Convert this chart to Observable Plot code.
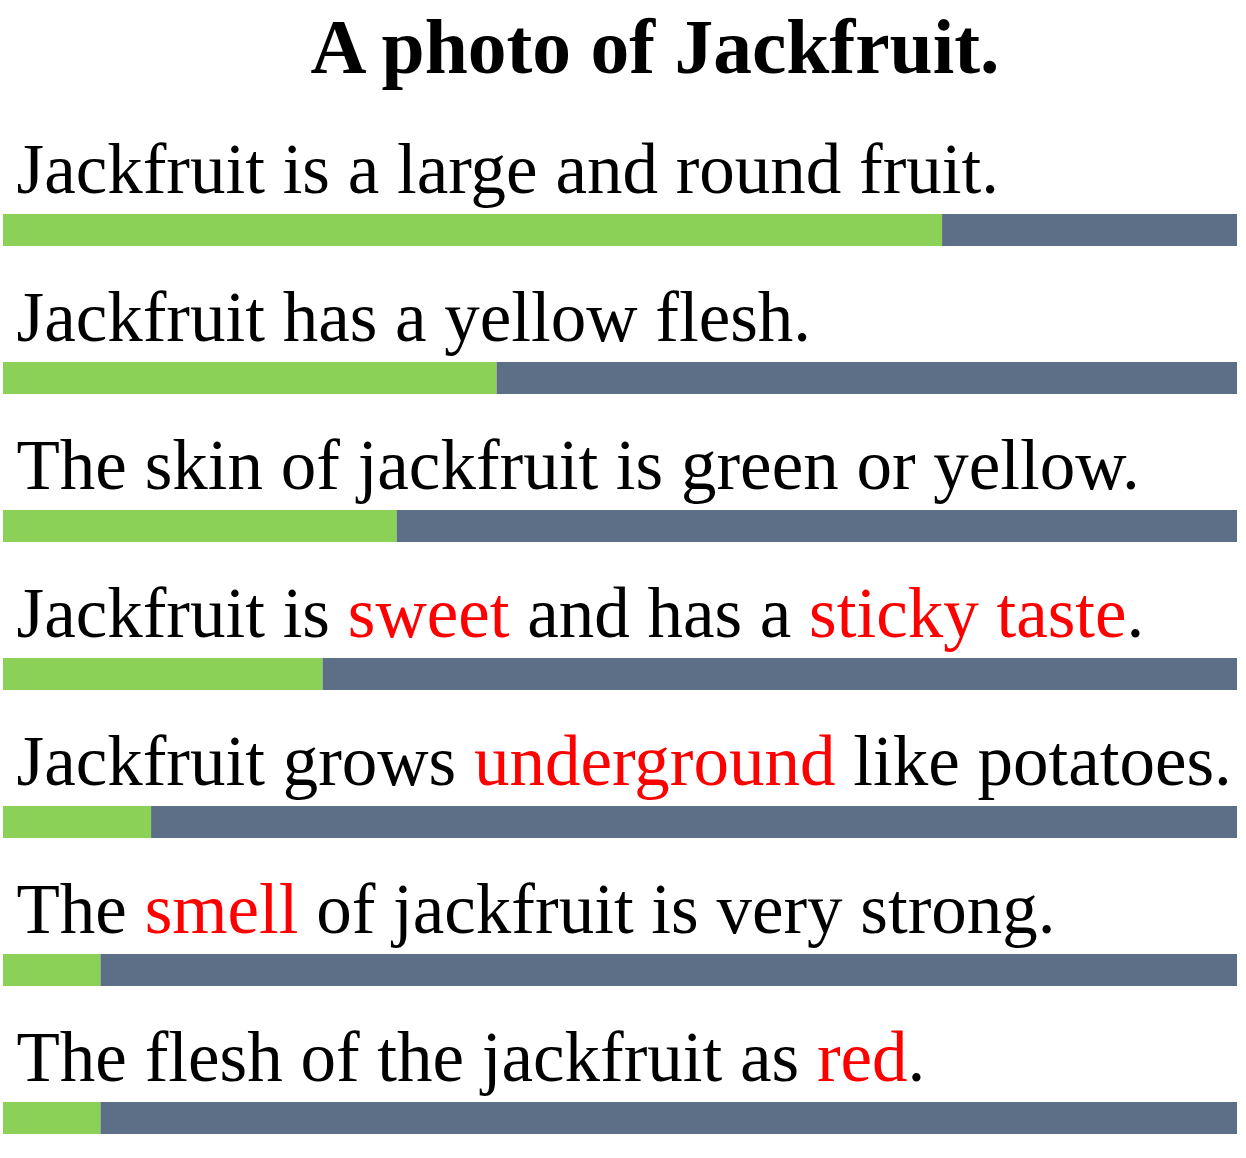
<!DOCTYPE html>
<html>
<head>
<meta charset="utf-8">
<script src="https://cdn.jsdelivr.net/npm/d3@7"></script>
<script src="https://cdn.jsdelivr.net/npm/@observablehq/plot@0.6"></script>
<style>
  html, body { margin: 0; padding: 0; background: #fff; }
  #title {
    font-family: "Liberation Serif", "Times New Roman", serif;
    font-weight: bold;
    font-size: 77.5px;
    line-height: 94px;
    height: 94px;
    text-align: center;
    padding-left: 64px;
    width: 1182px;
    white-space: nowrap;
  }
  #chart svg { display: block; overflow: visible; }
</style>
</head>
<body>
<div id="title">A photo of Jackfruit.</div>
<div id="chart"></div>
<script>
const sentences = [
  "Jackfruit is a large and round fruit.",
  "Jackfruit has a yellow flesh.",
  "The skin of jackfruit is green or yellow.",
  "Jackfruit is sweet and has a sticky taste.",
  "Jackfruit grows underground like potatoes.",
  "The smell of jackfruit is very strong.",
  "The flesh of the jackfruit as red."
];
const correct = [0.761, 0.400, 0.319, 0.259, 0.120, 0.079, 0.079];
const highlights = [[], [], [], ["sweet", "sticky taste"], ["underground"], ["smell"], ["red"]];

const green = "#8BD158";
const slate = "#5D6E87";
const red = "#FF0000";
const serif = "'Liberation Serif', 'Times New Roman', serif";

const rows = sentences.map((s, i) => ({sentence: s, p: correct[i], hl: highlights[i]}));

const chart = Plot.plot({
  width: 1246,
  height: 1064,
  marginLeft: 3,
  marginRight: 9,
  marginTop: 0,
  marginBottom: 0,
  x: {domain: [0, 1], axis: null},
  y: {type: "band", domain: sentences, range: [119, 1040], paddingInner: 0.784, paddingOuter: 0, axis: null},
  style: {background: "white", fontFamily: serif},
  marks: [
    Plot.barX(rows, {y: "sentence", x1: 0, x2: "p", fill: green}),
    Plot.barX(rows, {y: "sentence", x1: "p", x2: 1, fill: slate}),
    Plot.text(rows, {
      y: "sentence",
      frameAnchor: "left",
      text: "sentence",
      textAnchor: "start",
      lineAnchor: "bottom",
      dx: 13,
      dy: -38,
      fontSize: 71,
      fontFamily: serif,
      fill: "black"
    })
  ]
});

document.getElementById("chart").appendChild(chart);

// colour highlighted words red using tspans
const texts = chart.querySelectorAll('g[aria-label="text"] text');
texts.forEach((el, i) => {
  const s = sentences[i];
  const hl = highlights[i];
  if (!hl.length) return;
  const esc = hl.map(h => h.replace(/[.*+?^${}()|[\]\\]/g, "\\$&"));
  const re = new RegExp("(" + esc.join("|") + ")", "g");
  const parts = s.split(re).filter(p => p.length);
  while (el.firstChild) el.removeChild(el.firstChild);
  parts.forEach(part => {
    const t = document.createElementNS("http://www.w3.org/2000/svg", "tspan");
    t.textContent = part;
    if (hl.includes(part)) t.setAttribute("fill", red);
    el.appendChild(t);
  });
});
</script>
</body>
</html>
